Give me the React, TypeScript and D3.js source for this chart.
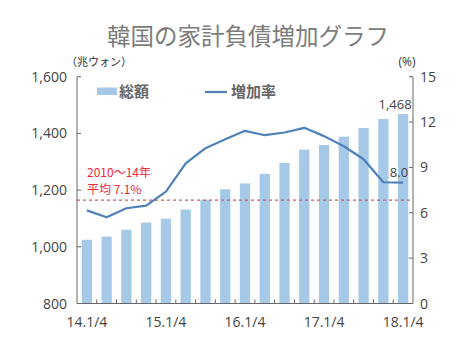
import React from "react";
import * as d3 from "d3";

const quarters = ["14.1/4","14.2/4","14.3/4","14.4/4","15.1/4","15.2/4","15.3/4","15.4/4","16.1/4","16.2/4","16.3/4","16.4/4","17.1/4","17.2/4","17.3/4","17.4/4","18.1/4"];
const totals = [1024.9,1035.9,1060.3,1085.3,1099.3,1131.5,1165.9,1203.1,1223.7,1257.3,1295.8,1342.5,1359.1,1388.3,1419.1,1450.8,1468.2];
const rates = [6.16,5.7,6.3,6.47,7.4,9.26,10.27,10.87,11.42,11.13,11.31,11.62,11.07,10.4,9.54,8.02,8.0];
const leftTicks = [800,1000,1200,1400,1600];
const rightTicks = [0,3,6,9,12,15];
const xTickLabels = ["14.1/4","15.1/4","16.1/4","17.1/4","18.1/4"];
const avgLineValue = 6.84;
const avgText1 = "2010〜14年";
const avgText2 = "平均 7.1%";
const title = "韓国の家計負債増加グラフ";

const W = 473, H = 342;
const L = 77, R = 413, T = 76.7, B = 303.5;
const numFont = "'Open Sans', 'Noto Sans', sans-serif";
const jpFont = "'Noto Sans CJK JP', sans-serif";

export default function App() {
  const x = d3.scaleBand<string>().domain(quarters).range([L, R]).paddingInner(0.48).paddingOuter(0.24);
  const yL = d3.scaleLinear().domain([800, 1600]).range([B, T]);
  const yR = d3.scaleLinear().domain([0, 15]).range([B, T]);
  const bw = x.bandwidth();
  const cx = (q: string) => (x(q) as number) + bw / 2;
  const step = x.step();
  const line = d3.line<number>().x((_, i) => cx(quarters[i])).y(d => yR(d));
  const lastQ = quarters[quarters.length - 1];
  const axisColor = "#666";
  const labelColor = "#444";
  return (
    <svg width={W} height={H} style={{ position: "absolute", left: 0, top: 0, background: "#fff" }}>
      <text x={248} y={45} textAnchor="middle" fontFamily={jpFont} fontSize={23.5} fill="#7d7d7d">{title}</text>
      <text x={66} y={66} fontFamily={jpFont} fontSize={11} fill="#333">（兆ウォン）</text>
      <text x={407} y={66} textAnchor="middle" fontFamily={numFont} fontSize={12} fill="#333">(%)</text>

      {totals.map((v, i) => (
        <rect key={i} x={x(quarters[i])} y={yL(v)} width={bw} height={B - yL(v)} fill="#a6c9e8" />
      ))}

      <line x1={L} x2={R} y1={yR(avgLineValue)} y2={yR(avgLineValue)} stroke="#d05a5a" strokeWidth={1.2} strokeDasharray="3,3" />

      <path d={line(rates) || ""} fill="none" stroke="#4f80b8" strokeWidth={2.2} strokeLinejoin="round" />

      {/* left axis */}
      <line x1={L} x2={L} y1={T} y2={B} stroke={axisColor} strokeWidth={1} />
      {leftTicks.map(t => (
        <g key={t}>
          <line x1={L} x2={L + 4} y1={yL(t)} y2={yL(t)} stroke={axisColor} />
          <text x={67} y={yL(t)} dy="0.36em" textAnchor="end" fontFamily={numFont} fontSize={14} fill={labelColor}>{d3.format(",")(t)}</text>
        </g>
      ))}
      {/* right axis */}
      <line x1={R} x2={R} y1={T} y2={B} stroke={axisColor} strokeWidth={1} />
      {rightTicks.map(t => (
        <g key={t}>
          <line x1={R - 4} x2={R} y1={yR(t)} y2={yR(t)} stroke={axisColor} />
          <text x={420} y={yR(t)} dy="0.36em" textAnchor="start" fontFamily={numFont} fontSize={14} fill={labelColor}>{t}</text>
        </g>
      ))}
      {/* bottom axis */}
      <line x1={L} x2={R} y1={B} y2={B} stroke={axisColor} strokeWidth={1} />
      {quarters.slice(1).map((q) => (
        <line key={q} x1={(x(q) as number) - (step - bw) / 2} x2={(x(q) as number) - (step - bw) / 2} y1={B} y2={B - 4} stroke={axisColor} />
      ))}
      {xTickLabels.map(q => (
        <text key={q} x={cx(q)} y={327} textAnchor="middle" fontFamily={numFont} fontSize={14} fill={labelColor}>{q}</text>
      ))}

      {/* legend */}
      <rect x={97} y={87.5} width={20} height={7.5} fill="#a6c9e8" />
      <text x={119} y={97} fontFamily={jpFont} fontSize={15} fontWeight={700} fill="#666">総額</text>
      <line x1={205} x2={227} y1={92} y2={92} stroke="#4f80b8" strokeWidth={2.2} />
      <text x={231} y={97} fontFamily={jpFont} fontSize={15} fontWeight={700} fill="#666">増加率</text>

      {/* annotations */}
      <text x={87} y={177} fontFamily={jpFont} fontSize={12} fill="#f0283c">{avgText1}</text>
      <text x={87} y={194} fontFamily={jpFont} fontSize={12} fill="#f0283c">{avgText2}</text>
      <text x={cx(lastQ) + 8.5} y={yL(totals[totals.length - 1]) - 5} textAnchor="end" fontFamily={numFont} fontSize={13} fill={labelColor}>{d3.format(",")(Math.round(totals[totals.length - 1]))}</text>
      <text x={cx(lastQ) + 5} y={yR(rates[rates.length - 1]) - 6} textAnchor="end" fontFamily={numFont} fontSize={13} fill={labelColor}>{rates[rates.length - 1].toFixed(1)}</text>
    </svg>
  );
}
